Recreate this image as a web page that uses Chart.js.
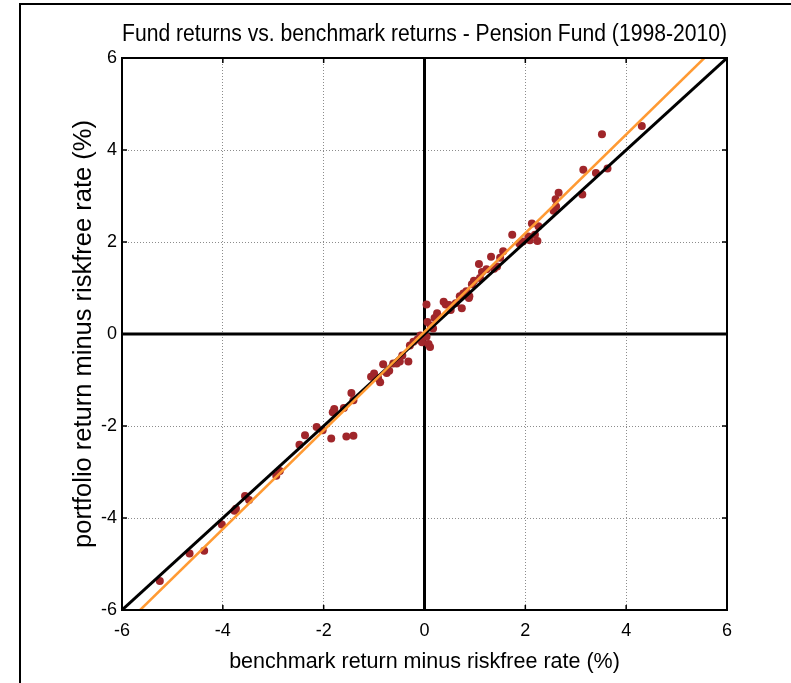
<!DOCTYPE html>
<html><head><meta charset="utf-8">
<script src="https://cdn.jsdelivr.net/npm/chart.js@4.4.1/dist/chart.umd.min.js"></script>
<style>
html,body{margin:0;padding:0;background:#fff;}
#wrap{position:relative;width:791px;height:683px;overflow:hidden;background:#fff;}
#frame{position:absolute;left:19px;top:3px;width:800px;height:700px;border-top:2px solid #000;border-left:2px solid #000;pointer-events:none;}
canvas{position:absolute;left:0;top:0;}
</style></head><body>
<div id="wrap"><canvas id="c" width="791" height="683"></canvas><div id="frame"></div></div>
<script>
// benchmark return minus riskfree rate (%)
const benchmarkX = [-5.25,-4.66,-4.37,-4.02,-3.77,-3.74,-3.56,-3.48,-2.94,-2.87,-2.48,-2.37,-2.14,-2.02,-1.85,-1.82,-1.79,-1.60,-1.55,-1.41,-1.45,-1.41,-1.06,-1.00,-0.92,-0.88,-0.82,-0.75,-0.70,-0.62,-0.55,-0.49,-0.44,-0.32,-0.29,-0.22,-0.14,-0.08,-0.05,0.04,0.06,0.04,0.08,0.11,0.12,0.17,0.20,0.25,0.38,0.42,0.49,0.52,0.62,0.70,0.74,0.77,0.83,0.88,0.89,0.94,0.98,1.08,1.10,1.14,1.23,1.32,1.38,1.44,1.50,1.56,1.74,1.88,1.95,2.06,2.09,2.13,2.19,2.24,2.26,2.56,2.61,2.60,2.66,3.13,3.15,3.40,3.52,3.63,4.31];
// portfolio return minus riskfree rate (%)
const portfolioY = [-5.37,-4.77,-4.71,-4.14,-3.84,-3.80,-3.52,-3.61,-3.08,-2.98,-2.41,-2.20,-2.02,-2.09,-2.27,-1.70,-1.63,-1.61,-2.23,-2.21,-1.28,-1.44,-0.93,-0.86,-0.96,-1.05,-0.66,-0.85,-0.80,-0.64,-0.64,-0.60,-0.47,-0.60,-0.25,-0.17,-0.12,-0.03,-0.18,-0.06,0.26,0.64,-0.22,-0.28,0.18,0.12,0.35,0.45,0.70,0.64,0.63,0.52,0.67,0.82,0.56,0.88,0.93,0.78,0.82,1.08,1.16,1.52,1.22,1.35,1.41,1.68,1.42,1.47,1.66,1.80,2.16,1.97,2.01,2.12,2.04,2.40,2.16,2.02,2.34,2.68,2.77,2.93,3.07,3.03,3.57,3.50,4.34,3.60,4.52];
// 45-degree reference line
const identityX = [-6, 6];
const identityY = [-6, 6];
// fitted regression line
const fitX = [-5.64, 5.55];
const fitY = [-6, 6];
// tick labels
const tickValues = [-6, -4, -2, 0, 2, 4, 6];

const titleText = 'Fund returns vs. benchmark returns - Pension Fund (1998-2010)';
const xTitle = 'benchmark return minus riskfree rate (%)';
const yTitle = 'portfolio return minus riskfree rate (%)';

const pts = benchmarkX.map((x, i) => ({x: x, y: portfolioY[i]}));
const idLine = identityX.map((x, i) => ({x: x, y: identityY[i]}));
const fitLine = fitX.map((x, i) => ({x: x, y: fitY[i]}));

const narrow = '"Liberation Sans Narrow", "Liberation Sans", Arial, sans-serif';
const sans = '"Liberation Sans", Arial, sans-serif';

const framePlugin = {
  id: 'matlabFrame',
  beforeDatasetsDraw(chart) {
    const {ctx, chartArea: a, scales: {x, y}} = chart;
    ctx.save();
    ctx.strokeStyle = '#000';
    ctx.lineWidth = 3;
    const x0 = x.getPixelForValue(0), y0 = y.getPixelForValue(0);
    ctx.beginPath();
    ctx.moveTo(x0, a.top); ctx.lineTo(x0, a.bottom);
    ctx.moveTo(a.left, y0); ctx.lineTo(a.right, y0);
    ctx.stroke();
    ctx.restore();
  },
  afterDatasetsDraw(chart) {
    const {ctx, chartArea: a, scales: {x, y}} = chart;
    ctx.save();
    ctx.strokeStyle = '#000';
    ctx.lineWidth = 2;
    ctx.strokeRect(a.left, a.top, a.right - a.left, a.bottom - a.top);
    ctx.lineWidth = 1.5;
    const tl = 5;
    ctx.beginPath();
    tickValues.forEach(v => {
      const px = x.getPixelForValue(v);
      ctx.moveTo(px, a.bottom); ctx.lineTo(px, a.bottom - tl);
      ctx.moveTo(px, a.top); ctx.lineTo(px, a.top + tl);
      const py = y.getPixelForValue(v);
      ctx.moveTo(a.left, py); ctx.lineTo(a.left + tl, py);
      ctx.moveTo(a.right, py); ctx.lineTo(a.right - tl, py);
    });
    ctx.stroke();
    ctx.restore();
  }
};

const gridOpts = {color: 'rgba(0,0,0,0.45)', lineWidth: 1, drawTicks: false};
const borderOpts = {display: false, dash: [1, 2]};

new Chart(document.getElementById('c'), {
  type: 'scatter',
  data: {
    datasets: [
      {type: 'line', label: 'fit', data: fitLine, borderColor: '#FF9A33', borderWidth: 2.5, pointRadius: 0, fill: false, order: 1},
      {type: 'line', label: 'y = x', data: idLine, borderColor: '#000000', borderWidth: 3, pointRadius: 0, fill: false, order: 2},
      {type: 'scatter', label: 'returns', data: pts, backgroundColor: '#A0262A', borderColor: '#A0262A', borderWidth: 0, pointRadius: 4, order: 3}
    ]
  },
  options: {
    responsive: false,
    animation: false,
    devicePixelRatio: 1,
    layout: {padding: {left: 0, right: 64, top: 0, bottom: 0}},
    plugins: {
      legend: {display: false},
      tooltip: {enabled: false},
      title: {
        display: true, text: titleText, color: '#000', fullSize: false,
        font: {family: narrow, size: 23.5, weight: 'normal', lineHeight: 1.2},
        padding: {top: 20, bottom: 9.8}
      }
    },
    scales: {
      x: {
        type: 'linear', min: -6, max: 6,
        afterBuildTicks: s => { s.ticks = tickValues.map(v => ({value: v})); },
        afterFit: s => { s.height = 73; },
        grid: gridOpts, border: borderOpts,
        ticks: {color: '#000', font: {family: narrow, size: 18}, padding: 10, maxRotation: 0},
        title: {display: true, text: xTitle, color: '#000', font: {family: narrow, size: 21.5, lineHeight: 1.2}, padding: {top: 0, bottom: 8}}
      },
      y: {
        type: 'linear', min: -6, max: 6,
        afterBuildTicks: s => { s.ticks = tickValues.map(v => ({value: v})); },
        afterFit: s => { s.width = 122; },
        grid: gridOpts, border: borderOpts,
        ticks: {color: '#000', font: {family: narrow, size: 18}, padding: 5},
        title: {display: true, text: yTitle, color: '#000', font: {family: sans, size: 25.5, lineHeight: 1.2}, padding: {top: 69, bottom: 0}}
      }
    }
  },
  plugins: [framePlugin]
});
</script>
</body></html>
